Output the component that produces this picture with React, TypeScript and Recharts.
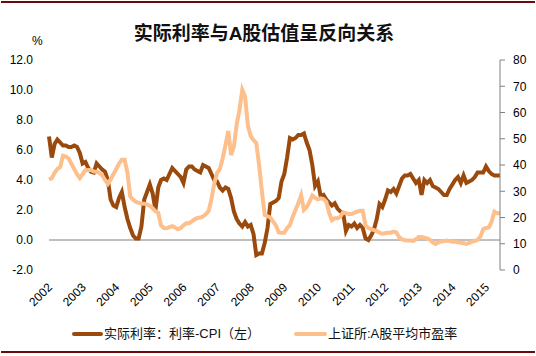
import { LineChart, Line, XAxis, YAxis, ReferenceLine } from "recharts";

const YEARS = [
  "2002", "2003", "2004", "2005", "2006", "2007", "2008",
  "2009", "2010", "2011", "2012", "2013", "2014", "2015",
];

// 实际利率：利率-CPI（左），monthly from 2002-01
const REAL_RATE = [
  6.9, 5.5, 6.4, 6.7, 6.5, 6.3, 6.3, 6.2, 6.2, 6.3, 6.2, 5.8,
  5.1, 5.2, 4.8, 4.55, 4.5, 5.1, 4.9, 4.7, 4.55, 4.0, 2.7, 2.3,
  2.2, 2.8, 3.2, 2.2, 1.4, 0.8, 0.3, 0.1, 0.1, 0.9, 2.7, 3.2,
  3.7, 3.1, 2.0, 3.5, 4.0, 4.1, 4.0, 4.4, 4.8, 4.6, 4.4, 4.2,
  3.8, 4.7, 4.9, 4.9, 4.7, 4.6, 4.5, 5.0, 4.9, 4.8, 4.4, 4.0,
  3.9, 3.5, 3.3, 3.5, 3.4, 2.8, 1.9, 1.4, 1.1, 0.9, 1.2, 0.9,
  1.0, 0.4, -1.0, -0.9, -0.9, -0.2, 0.8, 2.4, 2.5, 2.6, 2.8, 3.9,
  4.4, 5.5, 6.8, 6.7, 6.8, 7.0, 7.0, 7.1, 6.5, 6.0, 5.0, 3.6,
  3.9, 2.9, 3.0, 2.7, 2.5, 2.3, 2.45, 2.1, 1.9, 1.8, 0.6, 1.0,
  0.9, 1.1, 0.8, 1.0, 0.8, 0.1, 0.0, 0.3, 0.7, 1.4, 2.4, 2.2,
  2.7, 3.3, 3.2, 3.4, 3.1, 3.6, 4.1, 4.3, 4.3, 4.4, 4.1, 3.8,
  4.0, 3.0, 4.0, 3.8, 4.0, 3.6, 3.5, 3.4, 3.2, 3.0, 3.0, 3.4,
  3.7, 4.0, 4.2, 3.8, 4.3, 3.8, 3.9, 4.0, 4.2, 4.5, 4.5, 4.5,
  4.9, 4.6, 4.4, 4.3, 4.3, 4.3,
];

// 上证所:A股平均市盈率（右）
const PE_RATIO = [
  34.5, 35, 37, 38.5, 39.2, 43.5, 43.2, 42.5, 40.5, 38.5, 36.5, 35,
  36.5, 38, 38.1, 38.1, 37.5, 37.4, 37, 36, 34.3, 32.8, 34.5, 36.5,
  38.5, 40.5, 42, 42, 37, 28, 26.8, 26, 25.6, 25.3, 25.2, 25,
  24.4, 23.5, 22.4, 21.8, 17, 16, 15.9, 16.3, 16.7, 16.2, 15.5, 16,
  17, 17.8, 17.8, 18.5, 19.3, 19.8, 20, 20.4, 21.3, 22.5, 27, 33,
  37, 38.5, 42.5, 47.6, 53, 43.8, 47, 55.5, 61, 68.6, 66, 55,
  51, 49.5, 48.3, 40, 30, 21, 20.5, 20, 18.4, 17, 14.3, 14.2,
  14.2, 16, 17.1, 20.3, 22.9, 25.4, 28.5, 22.9, 24, 26, 28.4, 27.5,
  26.9, 27.3, 27, 26, 21.8, 19, 19.7, 19.7, 20.3, 22, 21.6, 21.3,
  21.3, 21.8, 22.2, 22.6, 22.6, 17, 16, 15.6, 15.2, 14.8, 14.2, 13.8,
  14, 14.2, 14.2, 14.6, 14.3, 12.5, 11.7, 11.3, 11.2, 11.2, 11.1, 11.7,
  12.6, 12.6, 12.3, 12, 11.5, 10.5, 9.9, 10.5, 10.9, 11, 11.2, 11,
  10.8, 10.8, 10.6, 10.4, 10.2, 9.9, 10.3, 10.8, 11, 11.5, 12.7, 15.5,
  16, 16.2, 18.4, 22.2, 21.6, 21.6,
];

const LEFT_TICKS = [-2, 0, 2, 4, 6, 8, 10, 12];
const RIGHT_TICKS = [0, 10, 20, 30, 40, 50, 60, 70, 80];

const RATE_COLOR = "#9a4a0c";
const PE_COLOR = "#fdbf8c";
const NUM_FONT = "'Liberation Sans', Arial, sans-serif";
const CJK_FONT = "'Liberation Sans', 'Noto Sans CJK SC', sans-serif";

const data = REAL_RATE.map((rate, i) => ({
  month: `${YEARS[Math.floor(i / 12)]}-${String((i % 12) + 1).padStart(2, "0")}`,
  rate,
  pe: PE_RATIO[i],
}));

function YearTick({ x, y, payload }: any) {
  return (
    <text
      transform={`translate(${x + 4},${y + 10}) rotate(-45)`}
      textAnchor="end"
      fontSize={12}
      fontFamily={NUM_FONT}
      fill="#000"
    >
      {String(payload.value).slice(0, 4)}
    </text>
  );
}

export default function App() {
  return (
    <div
      style={{
        position: "absolute",
        left: 0,
        top: 0,
        width: 536,
        height: 356,
        background: "#fff",
        fontFamily: CJK_FONT,
      }}
    >
      <div style={{ position: "absolute", left: 1, top: 1, width: 534, height: 2, background: "#6b0a0a" }} />
      <div
        style={{
          position: "absolute",
          left: 0,
          top: 18,
          width: 528,
          textAlign: "center",
          fontSize: 19,
          fontWeight: "bold",
          color: "#111",
        }}
      >
        实际利率与A股估值呈反向关系
      </div>
      <div style={{ position: "absolute", left: 32, top: 34, fontSize: 12, fontFamily: NUM_FONT }}>%</div>

      <LineChart
        width={536}
        height={356}
        data={data}
        margin={{ top: 60, right: 0, bottom: 46, left: 0 }}
      >
        <XAxis
          dataKey="month"
          scale="point"
          padding={{ left: 0, right: 0 }}
          interval={11}
          axisLine={false}
          tickLine={false}
          height={40}
          tick={<YearTick />}
        />
        <YAxis
          yAxisId="left"
          domain={[-2, 12]}
          ticks={LEFT_TICKS}
          width={49}
          axisLine={false}
          tickLine={false}
          tickMargin={10}
          tickFormatter={(v) => Number(v).toFixed(1)}
          tick={{ fontSize: 12, fill: "#000", fontFamily: NUM_FONT }}
        />
        <YAxis
          yAxisId="right"
          orientation="right"
          domain={[0, 80]}
          ticks={RIGHT_TICKS}
          width={36}
          axisLine={{ stroke: "#808080" }}
          tickLine={{ stroke: "#808080" }}
          tickSize={5}
          tickMargin={8}
          tick={{ fontSize: 12, fill: "#000", fontFamily: NUM_FONT }}
        />
        <ReferenceLine yAxisId="left" y={0} stroke="#808080" strokeWidth={1} />
        <Line
          yAxisId="left"
          type="linear"
          dataKey="rate"
          stroke={RATE_COLOR}
          strokeWidth={4}
          dot={false}
          isAnimationActive={false}
        />
        <Line
          yAxisId="right"
          type="linear"
          dataKey="pe"
          stroke={PE_COLOR}
          strokeWidth={4}
          dot={false}
          isAnimationActive={false}
        />
      </LineChart>

      <div style={{ position: "absolute", left: 72, top: 332, width: 31, height: 4, borderRadius: 2, background: RATE_COLOR }} />
      <div style={{ position: "absolute", left: 104, top: 325, fontSize: 13, lineHeight: "18px", color: "#111", whiteSpace: "nowrap" }}>
        实际利率：利率-CPI（左）
      </div>
      <div style={{ position: "absolute", left: 294, top: 332, width: 33, height: 4, borderRadius: 2, background: PE_COLOR }} />
      <div style={{ position: "absolute", left: 328, top: 325, fontSize: 13, lineHeight: "18px", color: "#111", whiteSpace: "nowrap" }}>
        上证所:A股平均市盈率
      </div>
      <div style={{ position: "absolute", left: 1, top: 351, width: 534, height: 2, background: "#6b0a0a" }} />
    </div>
  );
}
